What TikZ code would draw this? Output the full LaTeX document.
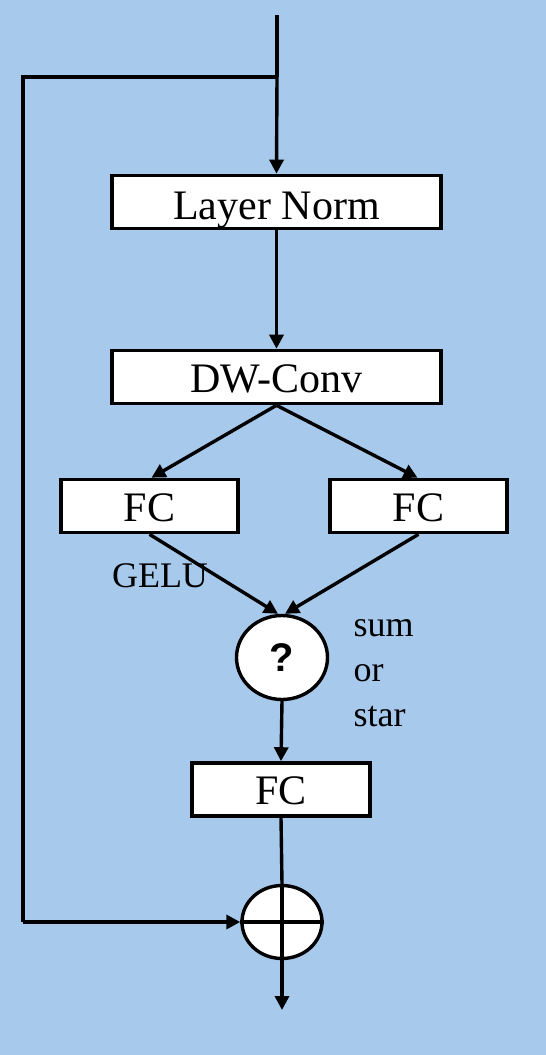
\documentclass[tikz,border=0pt]{standalone}
\usepackage{fontspec}
\setmainfont{Liberation Serif}
\newfontfamily\qfont{Liberation Sans}
\usetikzlibrary{arrows.meta,shapes.geometric}
\definecolor{bgblue}{HTML}{A7C9EC}
\begin{document}
\begin{tikzpicture}[x=1pt,y=-1pt,line width=3.4pt,
  box/.style={draw,fill=white,line width=3.6pt,inner sep=0pt,text height=30pt,text depth=0pt,font=\fontsize{42}{42}\selectfont},
  oval/.style={draw,fill=white,line width=3.4pt,inner sep=0pt,ellipse},
  lbl/.style={inner sep=0pt,font=\fontsize{36}{36}\selectfont},
  arr/.style={-{Triangle[length=14pt,width=14pt]}}]
\fill[bgblue] (0,0) rectangle (546,1055);
\useasboundingbox (0,0) rectangle (546,1055);
\coordinate (top) at (277,15);
\coordinate (br) at (277,77);
\coordinate (c1) at (23,77);
\coordinate (c2) at (23,922);
\coordinate (out) at (282,1010);
\node[box,minimum width=329pt,minimum height=53pt,text height=34pt] (ln) at (276.5,202) {Layer Norm};
\node[box,minimum width=329pt,minimum height=53pt] (dw) at (276.5,377) {DW-Conv};
\node[box,minimum width=177pt,minimum height=53pt] (fc1) at (149.5,506) {FC};
\node[box,minimum width=177pt,minimum height=53pt] (fc2) at (418.5,506) {FC};
\node[oval,minimum width=91pt,minimum height=84pt,font=\qfont\bfseries\fontsize{40}{40}\selectfont] (q) at (282,657.5) {?};
\node[box,minimum width=178pt,minimum height=53pt] (fc3) at (281,789.5) {FC};
\node[oval,minimum width=80pt,minimum height=73pt] (plus) at (282,922) {};
\draw (plus.north) -- (plus.south);
\draw (plus.west) -- (plus.east);
\node[lbl,anchor=base] (gelu) at (160,587) {GELU};
\node[lbl,anchor=base west] (sum) at (352,636) {sum};
\node[lbl,anchor=base west] (or) at (352,681) {or};
\node[lbl,anchor=base west] (star) at (352,726) {star};
\draw (top) -- (br);
\draw[arr] (br) -- (ln.north);
\draw (br) -- (c1) -- (c2);
\draw[arr] (c2) -- (plus.west);
\draw[arr] (ln.south) -- (dw.north);
\draw[arr] (dw.south) -- ([xshift=2pt]fc1.north);
\draw[arr] (dw.south) -- ([xshift=-1pt]fc2.north);
\draw[arr] (fc1.south) -- ([xshift=-4pt]q.north);
\draw[arr] (fc2.south) -- ([xshift=3pt]q.north);
\draw[arr] (q.south) -- (fc3.north);
\draw (fc3.south) -- (plus.north);
\draw[arr] (plus.south) -- (out);
\end{tikzpicture}
\end{document}
